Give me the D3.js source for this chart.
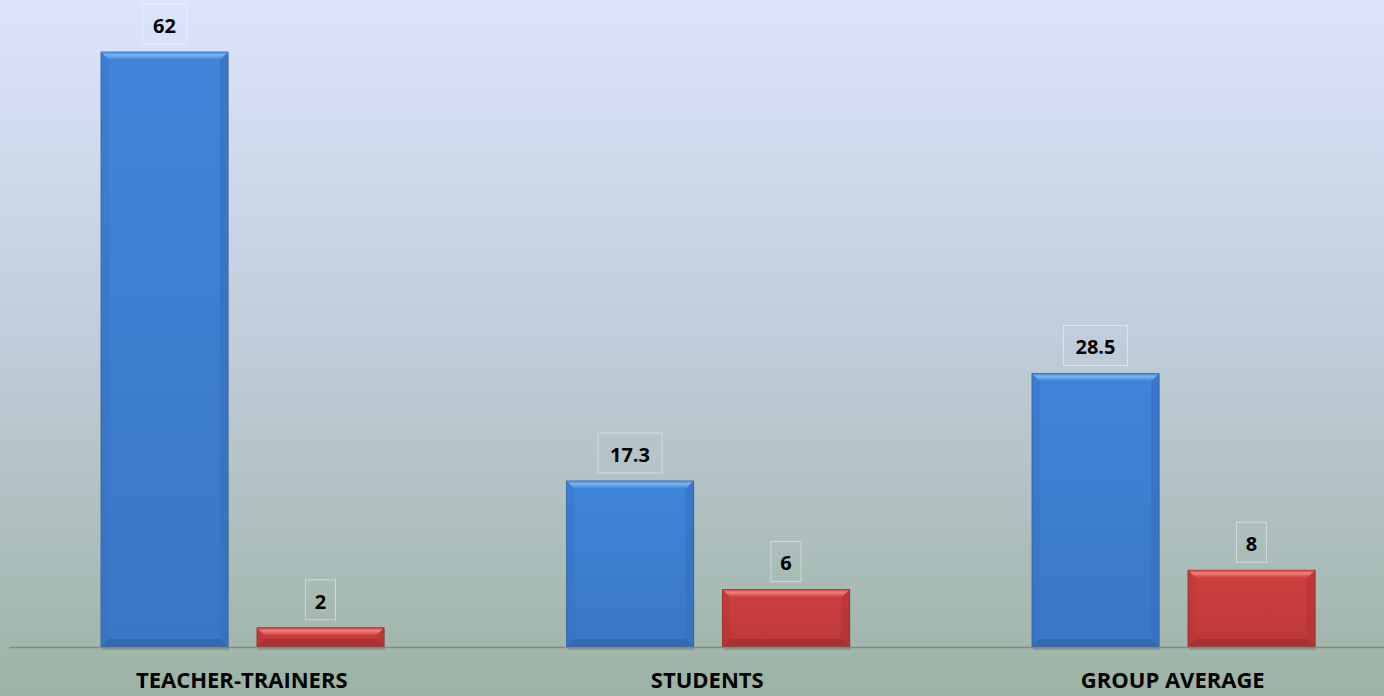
<!DOCTYPE html>
<html>
<head>
<meta charset="utf-8">
<script src="https://cdn.jsdelivr.net/npm/d3@7"></script>
<style>
  html, body { margin: 0; padding: 0; overflow: hidden; }
</style>
</head>
<body>
<div id="chart"></div>
<script>
var width = 1384;
var height = 696;

// data
let categories = ['TEACHER-TRAINERS', 'STUDENTS', 'GROUP AVERAGE'];
let series = ['s1', 's2'];
let blueValues = [62, 17.3, 28.5];
let redValues = [2, 6, 8];
let valueLabels = [['62', '2'], ['17.3', '6'], ['28.5', '8']];

let svg = d3.select('#chart').append('svg')
    .attr('width', width)
    .attr('height', height);

let defs = svg.append('defs');

let bg = defs.append('linearGradient')
    .attr('id', 'bg')
    .attr('x1', 0).attr('y1', 0).attr('x2', 0).attr('y2', 1);
bg.append('stop').attr('offset', '0%').attr('stop-color', '#dce4fc');
bg.append('stop').attr('offset', '50%').attr('stop-color', '#c0ccd9');
bg.append('stop').attr('offset', '100%').attr('stop-color', '#9db3a5');

svg.append('rect')
    .attr('width', width)
    .attr('height', height)
    .attr('fill', 'url(#bg)');

let colors = {
    s1: { main: '#3e80d2', top: '#78b6f4', side: '#3470c0', bottom: '#2a5a9c', edge: '#2b5c9e' },
    s2: { main: '#c93d3d', top: '#f27f7f', side: '#b23333', bottom: '#962828', edge: '#8a2525' }
};

function makeGrad(id, c) {
    let g = defs.append('linearGradient')
        .attr('id', id)
        .attr('x1', 0).attr('y1', 0).attr('x2', 0).attr('y2', 1);
    g.append('stop').attr('offset', '0%').attr('stop-color', d3.color(c).brighter(0.1));
    g.append('stop').attr('offset', '100%').attr('stop-color', d3.color(c).darker(0.2));
}
makeGrad('g_s1', colors.s1.main);
makeGrad('g_s2', colors.s2.main);

function makeTopGrad(id, c, m) {
    let g = defs.append('linearGradient')
        .attr('id', id)
        .attr('x1', 0).attr('y1', 0).attr('x2', 0).attr('y2', 1);
    g.append('stop').attr('offset', '0%').attr('stop-color', m);
    g.append('stop').attr('offset', '35%').attr('stop-color', c);
    g.append('stop').attr('offset', '100%').attr('stop-color', m);
}
makeTopGrad('t_s1', colors.s1.top, colors.s1.main);
makeTopGrad('t_s2', colors.s2.top, colors.s2.main);

let baseY = 647;
let y = d3.scaleLinear()
    .domain([0, 62])
    .range([baseY, 52]);

let x0 = d3.scaleBand()
    .domain(categories)
    .range([9, 1405.5]);

let x1 = d3.scaleBand()
    .domain(series)
    .range([92, 92 + 283])
    .paddingInner(0.186);

let rows = categories.map((c, i) => ({
    cat: c,
    vals: [
        { key: 's1', v: blueValues[i], label: valueLabels[i][0] },
        { key: 's2', v: redValues[i], label: valueLabels[i][1] }
    ]
}));

let groups = svg.selectAll('.grp')
    .data(rows)
    .enter()
    .append('g')
    .attr('class', 'grp')
    .attr('transform', d => 'translate(' + x0(d.cat) + ',0)');

let bars = groups.selectAll('.bar')
    .data(d => d.vals)
    .enter()
    .append('g')
    .attr('class', 'bar');

let bev = 8;

// shadow
bars.append('rect')
    .attr('x', d => x1(d.key) + 1)
    .attr('y', d => y(d.v) + 1)
    .attr('width', x1.bandwidth())
    .attr('height', d => baseY - y(d.v) + 2)
    .attr('fill', 'rgba(0,0,0,0.15)');

bars.append('rect')
    .attr('x', d => x1(d.key))
    .attr('y', d => y(d.v))
    .attr('width', x1.bandwidth())
    .attr('height', d => baseY - y(d.v))
    .attr('fill', d => 'url(#g_' + d.key + ')')
    .attr('stroke', d => colors[d.key].edge)
    .attr('stroke-width', 0.8);

// top bevel
bars.append('path')
    .attr('d', d => {
        let l = x1(d.key), r = l + x1.bandwidth(), t = y(d.v);
        let b = Math.min(bev, (baseY - t) / 2);
        return 'M' + l + ',' + t + 'L' + r + ',' + t + 'L' + (r - b) + ',' + (t + b) + 'L' + (l + b) + ',' + (t + b) + 'Z';
    })
    .attr('fill', d => 'url(#t_' + d.key + ')');

// side bevels
bars.append('path')
    .attr('d', d => {
        let l = x1(d.key), t = y(d.v), h = baseY - t;
        let b = Math.min(bev, h / 2);
        return 'M' + l + ',' + t + 'L' + (l + b) + ',' + (t + b) + 'L' + (l + b) + ',' + (baseY - b) + 'L' + l + ',' + baseY + 'Z';
    })
    .attr('fill', d => colors[d.key].side)
    .attr('opacity', 0.35);

bars.append('path')
    .attr('d', d => {
        let r = x1(d.key) + x1.bandwidth(), t = y(d.v), h = baseY - t;
        let b = Math.min(bev, h / 2);
        return 'M' + r + ',' + t + 'L' + (r - b) + ',' + (t + b) + 'L' + (r - b) + ',' + (baseY - b) + 'L' + r + ',' + baseY + 'Z';
    })
    .attr('fill', d => colors[d.key].side)
    .attr('opacity', 0.6);

// bottom bevel
bars.append('path')
    .attr('d', d => {
        let l = x1(d.key), r = l + x1.bandwidth(), t = y(d.v), h = baseY - t;
        let b = Math.min(bev, h / 2);
        return 'M' + l + ',' + baseY + 'L' + r + ',' + baseY + 'L' + (r - b) + ',' + (baseY - b) + 'L' + (l + b) + ',' + (baseY - b) + 'Z';
    })
    .attr('fill', d => colors[d.key].bottom)
    .attr('opacity', 0.5);

// value labels with faint box
let boxW = d => (d.label.length > 2 ? 64 : d.label.length > 1 ? 44 : 30);
bars.append('rect')
    .attr('x', d => x1(d.key) + x1.bandwidth() / 2 - boxW(d) / 2)
    .attr('y', d => y(d.v) - 48)
    .attr('width', boxW)
    .attr('height', 40)
    .attr('fill', 'none')
    .attr('stroke', 'rgba(255,255,255,0.45)')
    .attr('stroke-width', 1);

bars.append('text')
    .attr('x', d => x1(d.key) + x1.bandwidth() / 2)
    .attr('y', d => y(d.v) - 19)
    .attr('text-anchor', 'middle')
    .attr('font-family', 'Open Sans, sans-serif')
    .attr('font-weight', 'bold')
    .attr('font-size', 20)
    .attr('fill', '#000')
    .text(d => d.label);

// axis line
svg.append('line')
    .attr('x1', 9)
    .attr('x2', width)
    .attr('y1', baseY + 0.5)
    .attr('y2', baseY + 0.5)
    .attr('stroke', '#868686')
    .attr('stroke-width', 1.5);

// category labels
svg.selectAll('.cat')
    .data(categories)
    .enter()
    .append('text')
    .attr('class', 'cat')
    .attr('x', d => x0(d) + x0.bandwidth() / 2)
    .attr('y', 688)
    .attr('text-anchor', 'middle')
    .attr('font-family', 'Open Sans, sans-serif')
    .attr('font-weight', 'bold')
    .attr('font-size', 22)
    .attr('fill', '#000')
    .text(d => d);
</script>
</body>
</html>
